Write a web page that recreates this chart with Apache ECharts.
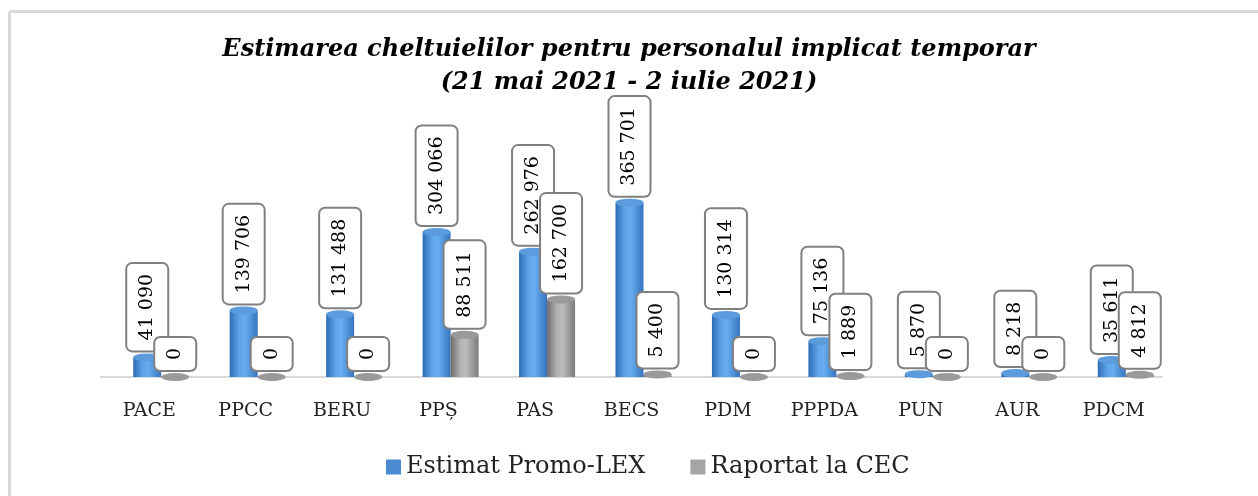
<!DOCTYPE html>
<html>
<head>
<meta charset="utf-8">
<title>Estimarea cheltuielilor</title>
<script src="https://cdn.jsdelivr.net/npm/echarts@6/dist/echarts.min.js"></script>
<style>
  html, body { margin: 0; padding: 0; background: #fff; }
  #main { width: 1258px; height: 496px; }
</style>
</head>
<body>
<div id="main"></div>
<script>
  // data
  const categories = ['PACE', 'PPCC', 'BERU', 'PPȘ', 'PAS', 'BECS', 'PDM', 'PPPDA', 'PUN', 'AUR', 'PDCM'];
  const estimat = [41090, 139706, 131488, 304066, 262976, 365701, 130314, 75136, 5870, 8218, 35611];
  const raportat = [0, 0, 0, 88511, 162700, 5400, 0, 1889, 0, 0, 4812];
  const seriesNames = ['Estimat Promo-LEX', 'Raportat la CEC'];

  const FONT = 'DejaVu Serif';

  // 41090 -> "41 090"
  function fmt(v) {
    return String(v).replace(/\B(?=(\d{3})+(?!\d))/g, ' ');
  }

  function cylinder(stops) {
    return new echarts.graphic.LinearGradient(0, 0, 1, 0, stops.map((c, i) => ({
      offset: [0, 0.35, 0.55, 1][i], color: c
    })));
  }

  let dataLabel = {
    show: true,
    position: 'top',
    distance: 7,
    rotate: 90,
    align: 'left',
    verticalAlign: 'middle',
    offset: [-4, 0],
    formatter: p => fmt(p.value),
    fontFamily: FONT,
    fontSize: 19,
    lineHeight: 24,
    color: '#000',
    backgroundColor: '#fff',
    borderColor: '#808080',
    borderWidth: 2,
    borderRadius: 5,
    padding: [8, 10],
  };

  let chart = echarts.init(document.getElementById('main'));

  let option = {
    animation: false,
    title: {
      text: 'Estimarea cheltuielilor pentru personalul implicat temporar\n(21 mai 2021 - 2 iulie 2021)',
      left: 'center',
      top: 28,
      textStyle: {
        fontFamily: FONT,
        fontSize: 24,
        fontWeight: 'bold',
        fontStyle: 'italic',
        color: '#000',
        lineHeight: 33,
      },
    },
    legend: {
      left: 381,
      top: 450,
      icon: 'rect',
      itemWidth: 15,
      itemHeight: 15,
      itemGap: 45,
      textStyle: { fontFamily: FONT, fontSize: 24, color: '#222' },
      data: [
        { name: seriesNames[0], itemStyle: { color: '#4a8bd3' } },
        { name: seriesNames[1], itemStyle: { color: '#a5a5a5' } },
      ],
    },
    // chart frame: only the top and left edges fall inside the picture
    graphic: [
      {
        type: 'line',
        shape: { x1: 9.5, y1: 11.5, x2: 1258, y2: 11.5 },
        style: { stroke: '#d9d9d9', lineWidth: 3 },
        silent: true,
      },
      {
        type: 'line',
        shape: { x1: 9.5, y1: 11.5, x2: 9.5, y2: 496 },
        style: { stroke: '#d9d9d9', lineWidth: 3 },
        silent: true,
      },
    ],
    grid: [
      // bars (shifted right, like the 3D perspective in the original)
      { left: 113, right: 84, top: 91, bottom: 119 },
      // visible category axis
      { left: 101, right: 96, top: 91, bottom: 119 },
    ],
    xAxis: [
      { type: 'category', gridIndex: 0, data: categories, show: false },
      {
        type: 'category',
        gridIndex: 1,
        data: categories,
        offset: 5,
        axisLine: { lineStyle: { color: '#d9d9d9', width: 2 } },
        axisTick: { show: false },
        axisLabel: { margin: 20, fontFamily: FONT, fontSize: 19, color: '#222' },
      },
    ],
    yAxis: [
      { type: 'value', gridIndex: 0, min: 0, max: 600000, show: false },
      { type: 'value', gridIndex: 1, min: 0, max: 600000, show: false },
    ],
    series: [
      {
        name: seriesNames[0],
        type: 'bar',
        data: estimat,
        barWidth: 28,
        barGap: '0%',
        z: 2,
        itemStyle: { color: cylinder(['#2e6cb3', '#5fa5ea', '#67adef', '#3574bf']) },
      },
      {
        name: seriesNames[1],
        type: 'bar',
        data: raportat,
        barWidth: 28,
        barGap: '0%',
        z: 2,
        itemStyle: { color: cylinder(['#6c6c6c', '#b3b3b3', '#bcbcbc', '#7c7c7c']) },
      },
      {
        name: 'capEstimat',
        type: 'pictorialBar',
        data: estimat,
        symbol: 'circle',
        symbolSize: [28, 8],
        symbolPosition: 'end',
        symbolOffset: [0, '-50%'],
        barWidth: 28,
        barGap: '0%',
        z: 3,
        itemStyle: { color: '#5c9cdc' },
        label: dataLabel,
      },
      {
        name: 'capRaportat',
        type: 'pictorialBar',
        data: raportat,
        symbol: 'circle',
        symbolSize: [28, 8],
        symbolPosition: 'end',
        symbolOffset: [0, '-50%'],
        barWidth: 28,
        barGap: '0%',
        z: 3,
        itemStyle: { color: '#9a9a9a' },
        label: dataLabel,
      },
    ],
  };

  chart.setOption(option);
</script>
</body>
</html>
